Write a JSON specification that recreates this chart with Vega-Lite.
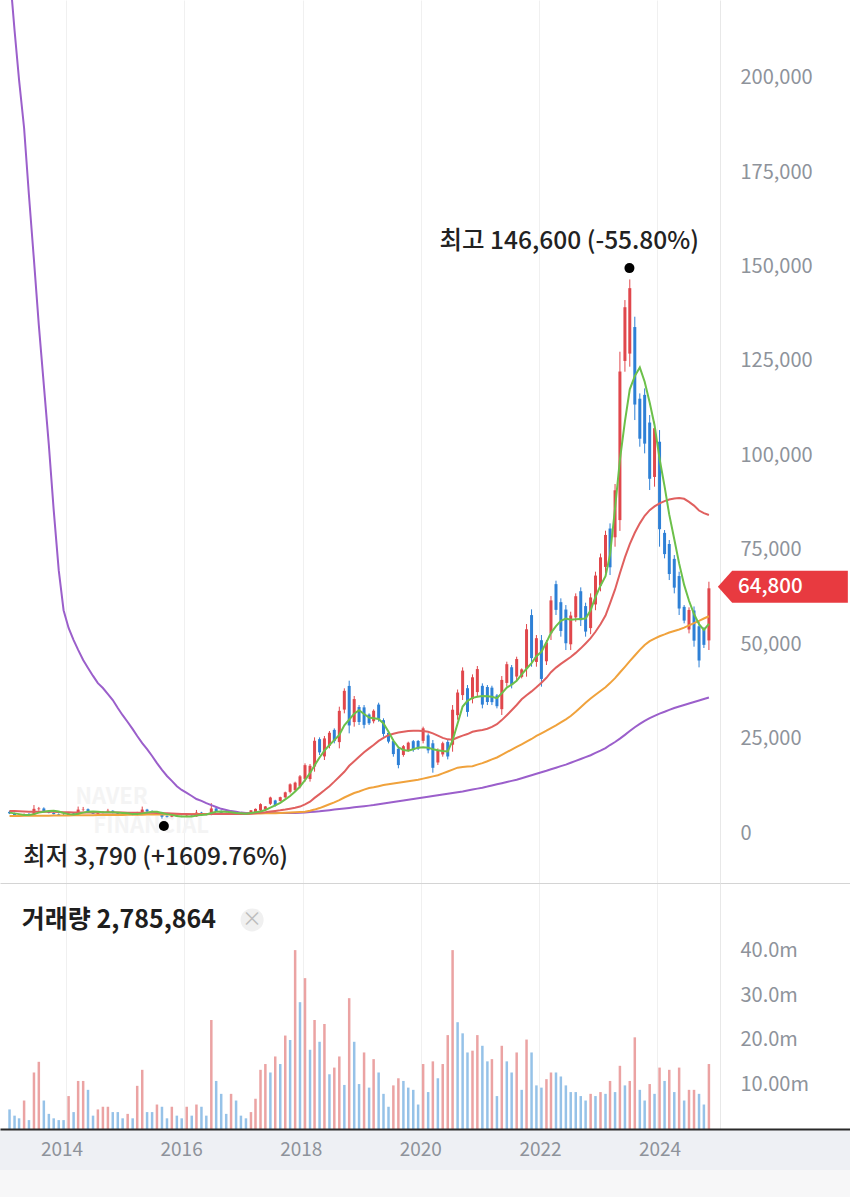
{
"$schema": "https://vega.github.io/schema/vega-lite/v6.json",
"padding": 0,
"spacing": 0,
"bounds": "flush",
"background": "white",
"config": {"view": {"stroke": null}, "font": "Noto Sans CJK KR", "axis": {"labelFont": "Noto Sans CJK KR"}, "text": {"font": "Noto Sans CJK KR"}},
"datasets": {
"k": [
{"d":"2013-01-15","o":5600,"h":5900,"l":5000,"c":5200,"v":4400000,"vd":"d","a":5400,"b":5800,"e":4500,"f":228500},
{"d":"2013-02-15","o":5200,"h":5400,"l":4600,"c":4800,"v":3000000,"vd":"d","a":5200,"b":5800,"e":4510,"f":212600},
{"d":"2013-03-15","o":4800,"h":5000,"l":4500,"c":4600,"v":2400000,"vd":"d","a":5000,"b":5750,"e":4520,"f":199400},
{"d":"2013-04-15","o":4600,"h":5200,"l":4500,"c":5000,"v":6400000,"vd":"u","a":4800,"b":5700,"e":4540,"f":186700},
{"d":"2013-05-15","o":5000,"h":5300,"l":4700,"c":4800,"v":2000000,"vd":"d","a":4800,"b":5650,"e":4550,"f":168900},
{"d":"2013-06-15","o":4800,"h":7400,"l":4700,"c":6400,"v":12700000,"vd":"u","a":5000,"b":5650,"e":4560,"f":151700},
{"d":"2013-07-15","o":6300,"h":6900,"l":5900,"c":6500,"v":15100000,"vd":"u","a":5400,"b":5650,"e":4580,"f":134500},
{"d":"2013-08-15","o":6500,"h":6800,"l":5500,"c":5700,"v":6400000,"vd":"d","a":5600,"b":5650,"e":4590,"f":118600},
{"d":"2013-09-15","o":5700,"h":5900,"l":5200,"c":5300,"v":3400000,"vd":"d","a":5800,"b":5600,"e":4600,"f":102700},
{"d":"2013-10-15","o":5300,"h":5500,"l":4900,"c":5000,"v":2400000,"vd":"d","a":5900,"b":5600,"e":4620,"f":85500},
{"d":"2013-11-15","o":5000,"h":5200,"l":4700,"c":4800,"v":2000000,"vd":"d","a":5700,"b":5550,"e":4630,"f":69600},
{"d":"2013-12-15","o":4800,"h":5000,"l":4500,"c":4600,"v":2000000,"vd":"d","a":5300,"b":5500,"e":4640,"f":59000},
{"d":"2014-01-15","o":4600,"h":5400,"l":4500,"c":5200,"v":7400000,"vd":"u","a":5000,"b":5500,"e":4660,"f":54300},
{"d":"2014-02-15","o":5200,"h":5300,"l":4800,"c":4900,"v":3800000,"vd":"d","a":4900,"b":5450,"e":4670,"f":51100},
{"d":"2014-03-15","o":4900,"h":7000,"l":4800,"c":6200,"v":10800000,"vd":"u","a":5100,"b":5450,"e":4680,"f":48500},
{"d":"2014-04-15","o":6200,"h":6900,"l":5800,"c":6300,"v":10800000,"vd":"u","a":5400,"b":5450,"e":4700,"f":45800},
{"d":"2014-05-15","o":6300,"h":6500,"l":5300,"c":5500,"v":8800000,"vd":"d","a":5600,"b":5450,"e":4710,"f":43700},
{"d":"2014-06-15","o":5500,"h":5700,"l":5000,"c":5100,"v":3000000,"vd":"d","a":5700,"b":5400,"e":4720,"f":41600},
{"d":"2014-07-15","o":5100,"h":5600,"l":5000,"c":5400,"v":4400000,"vd":"u","a":5600,"b":5400,"e":4740,"f":39700},
{"d":"2014-08-15","o":5400,"h":5800,"l":5200,"c":5600,"v":5000000,"vd":"u","a":5500,"b":5400,"e":4750,"f":38400},
{"d":"2014-09-15","o":5600,"h":6400,"l":5400,"c":5900,"v":5000000,"vd":"u","a":5500,"b":5400,"e":4760,"f":36800},
{"d":"2014-10-15","o":5900,"h":6000,"l":5200,"c":5300,"v":3800000,"vd":"d","a":5500,"b":5400,"e":4780,"f":35200},
{"d":"2014-11-15","o":5300,"h":5500,"l":5000,"c":5100,"v":3800000,"vd":"d","a":5400,"b":5400,"e":4790,"f":33100},
{"d":"2014-12-15","o":5100,"h":5200,"l":4800,"c":4900,"v":2400000,"vd":"d","a":5300,"b":5400,"e":4800,"f":31200},
{"d":"2015-01-15","o":4900,"h":5300,"l":4800,"c":5100,"v":3400000,"vd":"u","a":5200,"b":5350,"e":4820,"f":29400},
{"d":"2015-02-15","o":5100,"h":5200,"l":4700,"c":4800,"v":2400000,"vd":"d","a":5000,"b":5350,"e":4830,"f":27500},
{"d":"2015-03-15","o":4800,"h":5600,"l":4700,"c":5400,"v":9700000,"vd":"u","a":5000,"b":5350,"e":4840,"f":25700},
{"d":"2015-04-15","o":5400,"h":7000,"l":5300,"c":6200,"v":13300000,"vd":"u","a":5200,"b":5350,"e":4860,"f":23800},
{"d":"2015-05-15","o":6200,"h":6400,"l":5500,"c":5700,"v":3800000,"vd":"d","a":5400,"b":5350,"e":4870,"f":22200},
{"d":"2015-06-15","o":5700,"h":6000,"l":5200,"c":5300,"v":3800000,"vd":"d","a":5600,"b":5350,"e":4880,"f":20400},
{"d":"2015-07-15","o":5300,"h":5800,"l":5100,"c":5500,"v":5500000,"vd":"u","a":5600,"b":5300,"e":4900,"f":18500},
{"d":"2015-08-15","o":5500,"h":5600,"l":3790,"c":4300,"v":5000000,"vd":"d","a":5300,"b":5250,"e":4910,"f":16700},
{"d":"2015-09-15","o":4500,"h":4700,"l":4100,"c":4300,"v":2400000,"vd":"d","a":5000,"b":5200,"e":4920,"f":15100},
{"d":"2015-10-15","o":4300,"h":4900,"l":4200,"c":4700,"v":5000000,"vd":"u","a":4800,"b":5150,"e":4940,"f":13800},
{"d":"2015-11-15","o":4700,"h":4800,"l":4300,"c":4400,"v":3000000,"vd":"d","a":4500,"b":5100,"e":4950,"f":12400},
{"d":"2015-12-15","o":4400,"h":4600,"l":4200,"c":4300,"v":2400000,"vd":"d","a":4400,"b":5050,"e":4960,"f":11400},
{"d":"2016-01-15","o":4300,"h":4800,"l":4200,"c":4600,"v":5000000,"vd":"u","a":4400,"b":5000,"e":4980,"f":10600},
{"d":"2016-02-15","o":4600,"h":4700,"l":4300,"c":4400,"v":3000000,"vd":"d","a":4400,"b":4950,"e":4990,"f":9800},
{"d":"2016-03-15","o":4400,"h":6100,"l":4300,"c":5400,"v":5500000,"vd":"u","a":4600,"b":4950,"e":5000,"f":9000},
{"d":"2016-04-15","o":5400,"h":5600,"l":4800,"c":5000,"v":5000000,"vd":"d","a":4800,"b":4950,"e":5020,"f":8500},
{"d":"2016-05-15","o":5000,"h":5200,"l":4700,"c":4800,"v":3000000,"vd":"d","a":4900,"b":4950,"e":5030,"f":7900},
{"d":"2016-06-15","o":4800,"h":7900,"l":4700,"c":6500,"v":24500000,"vd":"u","a":5300,"b":5000,"e":5040,"f":7400},
{"d":"2016-07-15","o":6500,"h":7000,"l":5600,"c":5800,"v":10800000,"vd":"d","a":5600,"b":5000,"e":5060,"f":6900},
{"d":"2016-08-15","o":5800,"h":6000,"l":5200,"c":5300,"v":7900000,"vd":"d","a":5700,"b":5000,"e":5070,"f":6400},
{"d":"2016-09-15","o":5300,"h":5500,"l":5000,"c":5100,"v":3400000,"vd":"d","a":5600,"b":5000,"e":5080,"f":6100},
{"d":"2016-10-15","o":5100,"h":5700,"l":5000,"c":5400,"v":7900000,"vd":"u","a":5500,"b":5000,"e":5100,"f":5800},
{"d":"2016-11-15","o":5400,"h":5500,"l":5000,"c":5100,"v":6400000,"vd":"d","a":5300,"b":5000,"e":5110,"f":5600},
{"d":"2016-12-15","o":5100,"h":5300,"l":4900,"c":5000,"v":3000000,"vd":"d","a":5200,"b":5000,"e":5120,"f":5400},
{"d":"2017-01-15","o":5000,"h":5200,"l":4800,"c":4900,"v":2400000,"vd":"d","a":5100,"b":5050,"e":5130,"f":5300},
{"d":"2017-02-15","o":5340,"h":6090,"l":5210,"c":6000,"v":3800000,"vd":"u","a":5300,"b":5100,"e":5140,"f":5300},
{"d":"2017-03-15","o":5570,"h":6500,"l":5400,"c":6390,"v":6800000,"vd":"u","a":5500,"b":5200,"e":5160,"f":5300},
{"d":"2017-04-15","o":5980,"h":7860,"l":5650,"c":7640,"v":13300000,"vd":"u","a":5700,"b":5350,"e":5180,"f":5300},
{"d":"2017-05-15","o":6250,"h":7150,"l":6090,"c":7040,"v":14600000,"vd":"u","a":6100,"b":5500,"e":5200,"f":5300},
{"d":"2017-06-15","o":7740,"h":9620,"l":7410,"c":9400,"v":12700000,"vd":"d","a":6700,"b":5700,"e":5230,"f":5300},
{"d":"2017-07-15","o":8620,"h":8800,"l":7000,"c":7270,"v":16300000,"vd":"u","a":7300,"b":5850,"e":5260,"f":5300},
{"d":"2017-08-15","o":8500,"h":9620,"l":8300,"c":9490,"v":14600000,"vd":"d","a":8000,"b":6000,"e":5300,"f":5300},
{"d":"2017-09-15","o":9450,"h":10950,"l":9180,"c":10770,"v":21000000,"vd":"u","a":8900,"b":6200,"e":5350,"f":5300},
{"d":"2017-10-15","o":10900,"h":13150,"l":10500,"c":12890,"v":20000000,"vd":"d","a":9800,"b":6450,"e":5400,"f":5300},
{"d":"2017-11-15","o":11350,"h":13600,"l":10950,"c":13340,"v":40200000,"vd":"u","a":11000,"b":6700,"e":5470,"f":5300},
{"d":"2017-12-15","o":12360,"h":15360,"l":11830,"c":15010,"v":28500000,"vd":"d","a":12300,"b":7000,"e":5550,"f":5350},
{"d":"2018-01-15","o":14330,"h":18450,"l":13600,"c":17970,"v":33900000,"vd":"u","a":14000,"b":7600,"e":5650,"f":5450},
{"d":"2018-02-15","o":14300,"h":18270,"l":13600,"c":17800,"v":17800000,"vd":"d","a":15900,"b":8300,"e":5900,"f":5550},
{"d":"2018-03-15","o":17600,"h":25330,"l":16240,"c":24420,"v":24500000,"vd":"u","a":17900,"b":9300,"e":6200,"f":5650},
{"d":"2018-04-15","o":24860,"h":25330,"l":20650,"c":21350,"v":19600000,"vd":"d","a":20000,"b":10300,"e":6600,"f":5750},
{"d":"2018-05-15","o":20280,"h":25690,"l":19330,"c":25050,"v":23600000,"vd":"u","a":21800,"b":11300,"e":7100,"f":5900},
{"d":"2018-06-15","o":23110,"h":27010,"l":22420,"c":26550,"v":12300000,"vd":"d","a":23300,"b":12400,"e":7600,"f":6050},
{"d":"2018-07-15","o":27310,"h":27710,"l":23740,"c":24340,"v":13800000,"vd":"u","a":24600,"b":13600,"e":8100,"f":6200},
{"d":"2018-08-15","o":24070,"h":33450,"l":22420,"c":32350,"v":16300000,"vd":"u","a":26000,"b":14900,"e":8700,"f":6350},
{"d":"2018-09-15","o":32680,"h":38310,"l":31690,"c":37650,"v":9900000,"vd":"d","a":28500,"b":16200,"e":9400,"f":6500},
{"d":"2018-10-15","o":38950,"h":40340,"l":26390,"c":28480,"v":29400000,"vd":"u","a":30000,"b":17800,"e":10000,"f":6650},
{"d":"2018-11-15","o":29380,"h":36280,"l":28160,"c":35470,"v":19600000,"vd":"d","a":31600,"b":19000,"e":10600,"f":6800},
{"d":"2018-12-15","o":33360,"h":33890,"l":28600,"c":29390,"v":10100000,"vd":"d","a":32500,"b":20200,"e":11000,"f":6950},
{"d":"2019-01-15","o":33270,"h":33890,"l":27710,"c":28640,"v":17200000,"vd":"u","a":31500,"b":21400,"e":11500,"f":7100},
{"d":"2019-02-15","o":31380,"h":31690,"l":28600,"c":29060,"v":9300000,"vd":"d","a":30600,"b":22400,"e":11900,"f":7250},
{"d":"2019-03-15","o":29600,"h":32750,"l":29040,"c":32380,"v":15700000,"vd":"u","a":30400,"b":23300,"e":12100,"f":7400},
{"d":"2019-04-15","o":34010,"h":34510,"l":29480,"c":30230,"v":12700000,"vd":"d","a":30200,"b":24400,"e":12400,"f":7600},
{"d":"2019-05-15","o":29880,"h":30370,"l":25510,"c":26240,"v":7900000,"vd":"d","a":29000,"b":25200,"e":12700,"f":7800},
{"d":"2019-06-15","o":26520,"h":26830,"l":23740,"c":24200,"v":5000000,"vd":"d","a":26800,"b":25900,"e":12900,"f":8000},
{"d":"2019-07-15","o":24340,"h":24800,"l":20210,"c":20900,"v":9800000,"vd":"u","a":24500,"b":26300,"e":13100,"f":8200},
{"d":"2019-08-15","o":22290,"h":22860,"l":17130,"c":17990,"v":11400000,"vd":"u","a":22700,"b":26600,"e":13300,"f":8400},
{"d":"2019-09-15","o":20670,"h":23300,"l":20210,"c":22990,"v":10800000,"vd":"d","a":22000,"b":26800,"e":13500,"f":8600},
{"d":"2019-10-15","o":21930,"h":24180,"l":21530,"c":23920,"v":9300000,"vd":"d","a":21800,"b":27000,"e":13700,"f":8800},
{"d":"2019-11-15","o":24320,"h":24630,"l":21530,"c":22000,"v":8800000,"vd":"d","a":22200,"b":27100,"e":13900,"f":9000},
{"d":"2019-12-15","o":24370,"h":24630,"l":21980,"c":22380,"v":5500000,"vd":"d","a":22600,"b":27100,"e":14100,"f":9200},
{"d":"2020-01-15","o":24400,"h":28160,"l":23740,"c":27720,"v":14600000,"vd":"u","a":22700,"b":27000,"e":14400,"f":9400},
{"d":"2020-02-15","o":25860,"h":26390,"l":21100,"c":21890,"v":8300000,"vd":"d","a":22600,"b":26800,"e":14700,"f":9600},
{"d":"2020-03-15","o":23760,"h":24630,"l":15970,"c":17270,"v":15200000,"vd":"u","a":22200,"b":26400,"e":15000,"f":9800},
{"d":"2020-04-15","o":18670,"h":22420,"l":18010,"c":21980,"v":11400000,"vd":"d","a":21900,"b":25800,"e":15300,"f":10000},
{"d":"2020-05-15","o":20810,"h":24180,"l":20210,"c":23780,"v":14600000,"vd":"u","a":21700,"b":25200,"e":15800,"f":10200},
{"d":"2020-06-15","o":24120,"h":24630,"l":19500,"c":20270,"v":21100000,"vd":"u","a":21600,"b":24800,"e":16300,"f":10400},
{"d":"2020-07-15","o":23380,"h":33890,"l":21530,"c":32650,"v":40200000,"vd":"u","a":24500,"b":24700,"e":16800,"f":10600},
{"d":"2020-08-15","o":31200,"h":38000,"l":30000,"c":37200,"v":24000000,"vd":"d","a":29000,"b":25300,"e":17300,"f":10800},
{"d":"2020-09-15","o":36520,"h":43870,"l":35220,"c":43000,"v":21500000,"vd":"d","a":33500,"b":25800,"e":17500,"f":11000},
{"d":"2020-10-15","o":38350,"h":39190,"l":30800,"c":32060,"v":17200000,"vd":"d","a":35000,"b":26200,"e":17600,"f":11250},
{"d":"2020-11-15","o":35480,"h":42010,"l":34330,"c":41240,"v":17600000,"vd":"u","a":35800,"b":26800,"e":17700,"f":11500},
{"d":"2020-12-15","o":37320,"h":44220,"l":36100,"c":43410,"v":21100000,"vd":"u","a":36100,"b":27100,"e":18100,"f":11750},
{"d":"2021-01-15","o":38970,"h":39630,"l":33010,"c":34000,"v":18700000,"vd":"d","a":36300,"b":27300,"e":18500,"f":12000},
{"d":"2021-02-15","o":38660,"h":39190,"l":33890,"c":34690,"v":15200000,"vd":"d","a":36200,"b":27600,"e":19000,"f":12300},
{"d":"2021-03-15","o":38490,"h":39000,"l":33890,"c":34660,"v":15700000,"vd":"u","a":36100,"b":28100,"e":19500,"f":12600},
{"d":"2021-04-15","o":36420,"h":36800,"l":33010,"c":33580,"v":7400000,"vd":"d","a":35700,"b":28800,"e":20000,"f":12900},
{"d":"2021-05-15","o":32800,"h":41570,"l":31250,"c":40540,"v":18700000,"vd":"u","a":37000,"b":29900,"e":20700,"f":13200},
{"d":"2021-06-15","o":39740,"h":45370,"l":38750,"c":44710,"v":15200000,"vd":"d","a":38500,"b":31200,"e":21400,"f":13500},
{"d":"2021-07-15","o":43870,"h":44490,"l":38300,"c":39230,"v":12700000,"vd":"d","a":39300,"b":32500,"e":22100,"f":13800},
{"d":"2021-08-15","o":41440,"h":46690,"l":40510,"c":46070,"v":17200000,"vd":"u","a":40300,"b":33900,"e":22800,"f":14100},
{"d":"2021-09-15","o":41350,"h":43600,"l":40950,"c":43340,"v":8800000,"vd":"d","a":42000,"b":35400,"e":23500,"f":14500},
{"d":"2021-10-15","o":43490,"h":55340,"l":41400,"c":53950,"v":20100000,"vd":"u","a":43500,"b":36500,"e":24200,"f":14900},
{"d":"2021-11-15","o":57710,"h":59230,"l":44040,"c":46320,"v":17200000,"vd":"d","a":45000,"b":37500,"e":24900,"f":15300},
{"d":"2021-12-15","o":45300,"h":52430,"l":44040,"c":51590,"v":9800000,"vd":"d","a":46800,"b":38600,"e":25700,"f":15700},
{"d":"2022-01-15","o":51060,"h":52430,"l":38750,"c":40800,"v":9300000,"vd":"d","a":48000,"b":39800,"e":26400,"f":16100},
{"d":"2022-02-15","o":45480,"h":51110,"l":44490,"c":50450,"v":11200000,"vd":"u","a":50500,"b":41100,"e":27100,"f":16500},
{"d":"2022-03-15","o":52860,"h":62760,"l":51110,"c":61600,"v":12700000,"vd":"u","a":53000,"b":42600,"e":27800,"f":16900},
{"d":"2022-04-15","o":65910,"h":66820,"l":57730,"c":59090,"v":12700000,"vd":"d","a":54800,"b":43800,"e":28500,"f":17300},
{"d":"2022-05-15","o":61130,"h":62140,"l":51990,"c":53510,"v":11800000,"vd":"d","a":56200,"b":44800,"e":29300,"f":17700},
{"d":"2022-06-15","o":59180,"h":60370,"l":48460,"c":50250,"v":9800000,"vd":"d","a":56800,"b":45700,"e":30100,"f":18100},
{"d":"2022-07-15","o":49980,"h":58610,"l":48460,"c":57600,"v":8300000,"vd":"d","a":56500,"b":46600,"e":31000,"f":18600},
{"d":"2022-08-15","o":57090,"h":63460,"l":55960,"c":62710,"v":8300000,"vd":"d","a":56600,"b":47700,"e":32100,"f":19100},
{"d":"2022-09-15","o":64030,"h":65050,"l":54810,"c":56350,"v":7400000,"vd":"d","a":56700,"b":48900,"e":33300,"f":19600},
{"d":"2022-10-15","o":60090,"h":60990,"l":51990,"c":53340,"v":6400000,"vd":"d","a":56800,"b":50200,"e":34500,"f":20100},
{"d":"2022-11-15","o":54270,"h":63460,"l":52650,"c":62380,"v":7900000,"vd":"u","a":59000,"b":51600,"e":35600,"f":20600},
{"d":"2022-12-15","o":60530,"h":69200,"l":59000,"c":68180,"v":7400000,"vd":"d","a":62500,"b":53300,"e":36600,"f":21200},
{"d":"2023-01-15","o":65500,"h":74000,"l":64000,"c":73000,"v":8300000,"vd":"u","a":65500,"b":55300,"e":37600,"f":21800},
{"d":"2023-02-15","o":70460,"h":80060,"l":68760,"c":78930,"v":7900000,"vd":"d","a":68000,"b":57600,"e":38600,"f":22500},
{"d":"2023-03-15","o":80630,"h":82000,"l":68320,"c":70370,"v":10800000,"vd":"u","a":73700,"b":60800,"e":39700,"f":23300},
{"d":"2023-04-15","o":78310,"h":92420,"l":75820,"c":90760,"v":8300000,"vd":"d","a":86000,"b":64500,"e":41000,"f":24100},
{"d":"2023-05-15","o":82870,"h":127460,"l":80000,"c":122210,"v":14200000,"vd":"u","a":98800,"b":68800,"e":42500,"f":25000},
{"d":"2023-06-15","o":125010,"h":141140,"l":122160,"c":139240,"v":9800000,"vd":"d","a":109000,"b":73000,"e":44000,"f":26000},
{"d":"2023-07-15","o":126960,"h":146600,"l":123490,"c":144290,"v":10800000,"vd":"u","a":117500,"b":76500,"e":45500,"f":27000},
{"d":"2023-08-15","o":133990,"h":136730,"l":109360,"c":113470,"v":20600000,"vd":"u","a":121000,"b":79500,"e":47000,"f":28000},
{"d":"2023-09-15","o":115010,"h":116420,"l":102300,"c":104420,"v":8800000,"vd":"d","a":123300,"b":82000,"e":48500,"f":28900},
{"d":"2023-10-15","o":116030,"h":117750,"l":100540,"c":103120,"v":6400000,"vd":"d","a":119500,"b":84000,"e":49800,"f":29700},
{"d":"2023-11-15","o":108700,"h":110690,"l":90830,"c":93810,"v":10100000,"vd":"u","a":114000,"b":85500,"e":50800,"f":30400},
{"d":"2023-12-15","o":94290,"h":108920,"l":91710,"c":107200,"v":7900000,"vd":"d","a":108000,"b":86500,"e":51500,"f":31000},
{"d":"2024-01-15","o":103620,"h":106710,"l":75820,"c":80450,"v":13800000,"vd":"u","a":99100,"b":87300,"e":52100,"f":31600},
{"d":"2024-02-15","o":79480,"h":80230,"l":72730,"c":73860,"v":10800000,"vd":"d","a":91800,"b":87900,"e":52600,"f":32100},
{"d":"2024-03-15","o":76530,"h":77590,"l":66990,"c":68580,"v":13300000,"vd":"u","a":84300,"b":88300,"e":53100,"f":32600},
{"d":"2024-04-15","o":72600,"h":73610,"l":63460,"c":64980,"v":8300000,"vd":"d","a":77800,"b":88600,"e":53500,"f":33100},
{"d":"2024-05-15","o":68050,"h":69200,"l":57730,"c":59450,"v":13800000,"vd":"u","a":71400,"b":88700,"e":53900,"f":33500},
{"d":"2024-06-15","o":59890,"h":60370,"l":55520,"c":56250,"v":6400000,"vd":"d","a":65700,"b":88500,"e":54400,"f":33900},
{"d":"2024-07-15","o":53900,"h":59760,"l":52870,"c":59070,"v":8800000,"vd":"u","a":61500,"b":87700,"e":55000,"f":34300},
{"d":"2024-08-15","o":58930,"h":60000,"l":49340,"c":50940,"v":8800000,"vd":"u","a":58000,"b":86700,"e":55600,"f":34700},
{"d":"2024-09-15","o":54750,"h":55960,"l":43870,"c":45680,"v":7900000,"vd":"d","a":55300,"b":85400,"e":56200,"f":35100},
{"d":"2024-10-15","o":53950,"h":54500,"l":49000,"c":49830,"v":5500000,"vd":"d","a":53800,"b":84700,"e":56800,"f":35500},
{"d":"2024-11-15","o":51000,"h":66550,"l":48460,"c":64800,"v":14600000,"vd":"u","a":55400,"b":84200,"e":57400,"f":35900}
]
},
"vconcat": [
{
"width": 850, "height": 883,
"layer": [
{"data": {"values": [{"d":"2014-10-08","y":9500,"s":"NAVER"},{"d":"2015-06-09","y":1900,"s":"FINANCIAL"}]},
 "mark": {"type":"text","fontSize":22,"fontWeight":"bold","color":"#f4f4f4"},
 "encoding": {"x":{"field":"d","type":"temporal","scale":{"domain":[{"year":2012,"month":12,"date":18,"utc":true},{"year":2027,"month":3,"date":6,"utc":true}]},
   "axis":{"orient":"bottom","grid":true,"gridColor":"#f0f0f0","gridWidth":1,"labels":false,"ticks":false,"domain":false,"title":null,
   "values":[{"year":2014,"month":1,"date":1,"utc":true},{"year":2016,"month":1,"date":1,"utc":true},{"year":2018,"month":1,"date":1,"utc":true},{"year":2020,"month":1,"date":1,"utc":true},{"year":2022,"month":1,"date":1,"utc":true},{"year":2024,"month":1,"date":1,"utc":true}]}},
  "y":{"field":"y","type":"quantitative","scale":{"domain":[-13240,220600],"nice":false,"zero":false},
   "axis":{"orient":"right","offset":-130,"title":null,"grid":false,"ticks":false,"domain":true,"domainColor":"#e8e8e8","labelPadding":20,"labelFontSize":20,"labelColor":"#8e939b","labelExpr":"format(datum.value, ',.0f')","values":[0,25000,50000,75000,100000,125000,150000,175000,200000]}},
  "text":{"field":"s"}}},
{"data": {"name":"k"},
 "mark": {"type":"rule","strokeWidth":1},
 "encoding": {"x":{"field":"d","type":"temporal"},"y":{"field":"l","type":"quantitative"},"y2":{"field":"h"},
  "color":{"condition":{"test":"datum.c >= datum.o","value":"#e0474c"},"value":"#2e80d6"}}},
{"data": {"name":"k"},
 "mark": {"type":"bar","width":3},
 "encoding": {"x":{"field":"d","type":"temporal"},"y":{"field":"o","type":"quantitative"},"y2":{"field":"c"},
  "color":{"condition":{"test":"datum.c >= datum.o","value":"#e0474c"},"value":"#2e80d6"}}},
{"data": {"name":"k"},
 "mark": {"type":"line","color":"#9b5fcb","strokeWidth":2,"clip":true},
 "encoding": {"x":{"field":"d","type":"temporal"},"y":{"field":"f","type":"quantitative"}}},
{"data": {"name":"k"},
 "mark": {"type":"line","color":"#f0a23c","strokeWidth":2,"clip":true},
 "encoding": {"x":{"field":"d","type":"temporal"},"y":{"field":"e","type":"quantitative"}}},
{"data": {"name":"k"},
 "mark": {"type":"line","color":"#e0605f","strokeWidth":2,"clip":true},
 "encoding": {"x":{"field":"d","type":"temporal"},"y":{"field":"b","type":"quantitative"}}},
{"data": {"name":"k"},
 "mark": {"type":"line","color":"#6cc04a","strokeWidth":2,"clip":true},
 "encoding": {"x":{"field":"d","type":"temporal"},"y":{"field":"a","type":"quantitative"}}},
{"data": {"values": [{"d":"2023-07-13","y":149600},{"d":"2015-08-27","y":1850}]},
 "mark": {"type":"point","filled":true,"color":"#000000","size":100,"opacity":1},
 "encoding": {"x":{"field":"d","type":"temporal"},"y":{"field":"y","type":"quantitative"}}},
{"data": {"values": [{"d":"2022-07-06","y":156500,"s":"최고 146,600 (-55.80%)"},{"d":"2015-07-06","y":-6600,"s":"최저 3,790 (+1609.76%)"}]},
 "mark": {"type":"text","fontSize":24.5,"color":"#222222","fontWeight":500},
 "encoding": {"x":{"field":"d","type":"temporal"},"y":{"field":"y","type":"quantitative"},"text":{"field":"s"}}},
{"data": {"values": [{"d":"2026-02-15","y":65200}]},
 "mark": {"type":"point","filled":true,"color":"#e83a40","opacity":1,"strokeWidth":0,"size":16900,"shape":"M-1,0L-0.78,-0.246L1,-0.246L1,0.246L-0.78,0.246Z"},
 "encoding": {"x":{"field":"d","type":"temporal"},"y":{"field":"y","type":"quantitative"}}},
{"data": {"values": [{"d":"2025-05-14","y":65200,"s":"64,800"}]},
 "mark": {"type":"text","fontSize":20.5,"color":"#ffffff","align":"left","fontWeight":500},
 "encoding": {"x":{"field":"d","type":"temporal"},"y":{"field":"y","type":"quantitative"},"text":{"field":"s"}}}
]
},
{
"width": 850, "height": 246,
"layer": [
{"data": {"name":"k"},
 "mark": {"type":"bar","width":2.5},
 "encoding": {"x":{"field":"d","type":"temporal","scale":{"domain":[{"year":2012,"month":12,"date":18,"utc":true},{"year":2027,"month":3,"date":6,"utc":true}]},
   "axis":{"orient":"top","grid":true,"gridColor":"#f0f0f0","labels":false,"ticks":false,"domain":true,"domainColor":"#d4d4d4","title":null,
   "values":[{"year":2014,"month":1,"date":1,"utc":true},{"year":2016,"month":1,"date":1,"utc":true},{"year":2018,"month":1,"date":1,"utc":true},{"year":2020,"month":1,"date":1,"utc":true},{"year":2022,"month":1,"date":1,"utc":true},{"year":2024,"month":1,"date":1,"utc":true}]}},
  "y":{"field":"v","type":"quantitative","scale":{"domain":[0,55280000],"nice":false},
   "axis":{"orient":"right","offset":-130,"title":null,"grid":false,"ticks":false,"domain":true,"domainColor":"#e8e8e8","labelPadding":20,"labelFontSize":20,"labelColor":"#8e939b","values":[10000000,20000000,30000000,40000000],
   "labelExpr":"datum.value == 10000000 ? '10.00m' : format(datum.value / 1000000, '.1f') + 'm'"}},
  "color":{"condition":{"test":"datum.vd == 'u'","value":"#eba3a3"},"value":"#96c2e8"}}},
{"data": {"values": [{"d":"2013-04-01","y":46970000,"s":"거래량 2,785,864"}]},
 "mark": {"type":"text","fontSize":25,"color":"#1e1e1e","fontWeight":"bold","align":"left"},
 "encoding": {"x":{"field":"d","type":"temporal"},"y":{"field":"y","type":"quantitative"},"text":{"field":"s"}}},
{"data": {"values": [{"d":"2017-02-22","y":46970000}]},
 "mark": {"type":"point","filled":true,"color":"#f0f0f0","opacity":1,"size":530},
 "encoding": {"x":{"field":"d","type":"temporal"},"y":{"field":"y","type":"quantitative"}}},
{"data": {"values": [{"d":"2017-02-22","y":46970000,"s":"×"}]},
 "mark": {"type":"text","fontSize":20,"color":"#bdbdbd"},
 "encoding": {"x":{"field":"d","type":"temporal"},"y":{"field":"y","type":"quantitative"},"text":{"field":"s"}}}
]
},
{
"width": 850, "height": 41,
"view": {"fill": "#eef0f4", "stroke": null},
"data": {"values": [{"d":"2014-01-01","s":"2014"},{"d":"2016-01-01","s":"2016"},{"d":"2018-01-01","s":"2018"},{"d":"2020-01-01","s":"2020"},{"d":"2022-01-01","s":"2022"},{"d":"2024-01-01","s":"2024"}]},
"mark": {"type":"text","fontSize":19,"color":"#8e939b"},
"encoding": {"x":{"field":"d","type":"temporal","scale":{"domain":[{"year":2012,"month":12,"date":18,"utc":true},{"year":2027,"month":3,"date":6,"utc":true}]},
  "axis":{"orient":"top","grid":false,"labels":false,"ticks":false,"domain":true,"domainColor":"#2a2a2a","domainWidth":2,"title":null}},
 "text":{"field":"s"}}
},
{
"width": 850, "height": 27,
"view": {"fill": "#f7f7f8", "stroke": null},
"data": {"values": [{"s":""}]},
"mark": {"type":"text"},
"encoding": {"text":{"field":"s"}}
}
]
}
